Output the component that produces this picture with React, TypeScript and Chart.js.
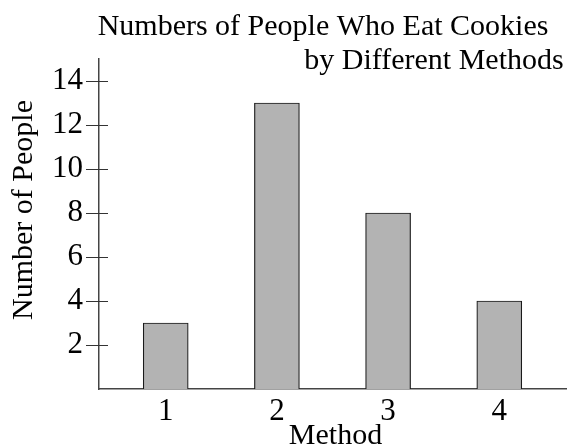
import React, { useEffect, useRef } from "react";
import { Chart, registerables } from "chart.js";

Chart.register(...registerables);

const methods = ["1", "2", "3", "4"];
const methodPositions = [1, 2, 3, 4];
const people = [3, 13, 8, 4];
const yTickValues = [2, 4, 6, 8, 10, 12, 14];
const titleLines = ["Numbers of People Who Eat Cookies", "by Different Methods"];
const xTitle = "Method";
const yTitle = "Number of People";

const FONT = "'Liberation Serif', serif";

const decorPlugin = {
  id: "decor",
  afterDraw(chart: any) {
    const ctx = chart.ctx;
    const yScale = chart.scales.y;
    const area = chart.chartArea;
    ctx.save();
    ctx.strokeStyle = "#333";
    ctx.lineWidth = 1;
    for (const v of yTickValues) {
      const py = Math.round(yScale.getPixelForValue(v)) + 0.5;
      ctx.beginPath();
      ctx.moveTo(area.left - 13, py);
      ctx.lineTo(area.left + 9, py);
      ctx.stroke();
    }
    ctx.fillStyle = "#000";
    ctx.font = `30px ${FONT}`;
    ctx.textBaseline = "alphabetic";
    ctx.textAlign = "center";
    ctx.fillText(titleLines[0], 323, 35);
    ctx.fillText(titleLines[1], 434, 69);
    ctx.fillText(xTitle, (area.left + area.right) / 2 + 3, 444);
    ctx.translate(32, 210);
    ctx.rotate(-Math.PI / 2);
    ctx.fillText(yTitle, 0, 0);
    ctx.restore();
  },
};

export default function App() {
  const ref = useRef<HTMLCanvasElement>(null);
  useEffect(() => {
    const chart = new Chart(ref.current as HTMLCanvasElement, {
      type: "bar",
      data: {
        datasets: [
          {
            data: methodPositions.map((x, i) => ({ x, y: people[i] })),
            backgroundColor: "#b3b3b3",
            borderColor: "#1a1a1a",
            borderWidth: 1.2,
            barThickness: 45,
          },
        ],
      },
      options: {
        animation: false,
        responsive: false,
        layout: { padding: { top: 59, right: 8, left: 0, bottom: 0 } },
        plugins: { legend: { display: false }, tooltip: { enabled: false }, title: { display: false } },
        scales: {
          x: {
            type: "linear",
            offset: false,
            min: 0.4,
            max: 4.6,
            afterBuildTicks: (s: any) => {
              s.ticks = methodPositions.map((v) => ({ value: v }));
            },
            afterFit: (s: any) => {
              s.height = 57;
            },
            grid: { display: false, drawTicks: false },
            border: { display: true, color: "#444", width: 1.5 },
            ticks: {
              padding: 4,
              color: "#000",
              font: { family: FONT, size: 31 },
              callback: (v: any) => methods[methodPositions.indexOf(Number(v))] ?? "",
              maxRotation: 0,
              autoSkip: false,
            },
          },
          y: {
            min: 0,
            max: 15,
            afterBuildTicks: (s: any) => {
              s.ticks = yTickValues.map((v) => ({ value: v }));
            },
            afterFit: (s: any) => {
              s.width = 99;
            },
            grid: { display: false, drawTicks: false },
            border: { display: true, color: "#444", width: 1.5 },
            ticks: {
              padding: 16,
              color: "#000",
              font: { family: FONT, size: 31 },
              autoSkip: false,
            },
          },
        },
      },
      plugins: [decorPlugin],
    } as any);
    return () => chart.destroy();
  }, []);
  return (
    <div style={{ position: "absolute", left: 0, top: 0, width: 574, height: 446, background: "#fff" }}>
      <canvas ref={ref} width={574} height={446} style={{ display: "block" }} />
    </div>
  );
}
